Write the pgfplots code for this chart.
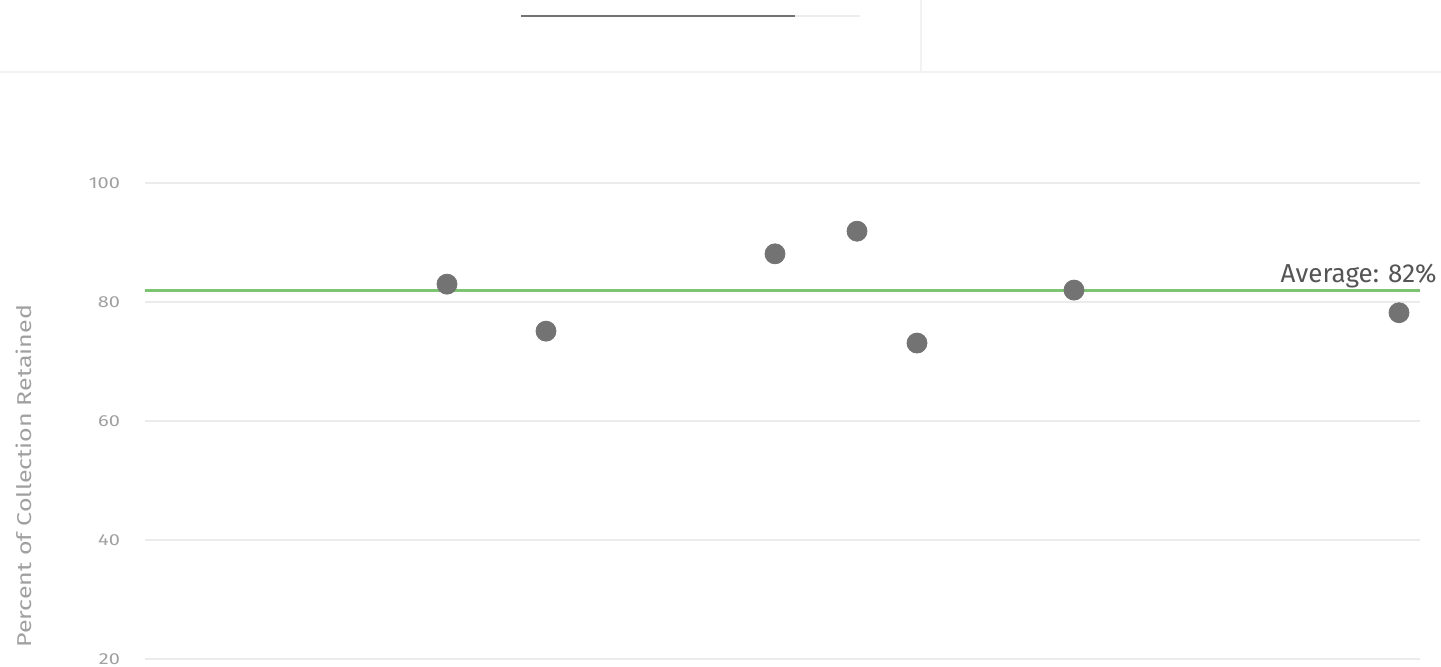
\documentclass[border=0pt]{standalone}
\usepackage{pgfplots}
\pgfplotsset{compat=1.18}
\usepackage{fontspec}
\setmainfont{Fira Sans}
\definecolor{gridc}{HTML}{EBEBEB}
\definecolor{ptc}{HTML}{737373}
\definecolor{avgc}{HTML}{7DC472}
\definecolor{lblc}{HTML}{A0A0A0}
\definecolor{txtc}{HTML}{555555}
\begin{document}
\begin{tikzpicture}[x=0.5pt,y=0.5pt]
\path[use as bounding box] (0,0) rectangle (1441,666);
% faint interface decoration at the top
\draw[line width=1pt, color=black!55] (521,650) -- (795,650);
\draw[line width=1pt, color=black!7] (795,650) -- (860,650);
\draw[line width=0.6pt, color=black!5] (0,594) -- (1441,594);
\draw[line width=0.6pt, color=black!5] (921,594) -- (921,666);
\begin{axis}[
  at={(72.5pt,0pt)}, anchor=south west,
  scale only axis, width=637.5pt, height=253.4pt,
  xmin=0, xmax=1275, ymin=18.82, ymax=104,
  axis line style={draw=none},
  xtick=\empty,
  ytick={20,40,60,80,100},
  ymajorgrids, grid style={gridc, line width=1pt},
  major tick length=0pt,
  yticklabel style={font=\fontsize{8}{9}\selectfont, text=lblc, anchor=east, xshift=-9pt},
  yticklabel={\scalebox{1.25}[1]{\pgfmathprintnumber{\tick}}},
  /pgf/number format/assume math mode=true,
  clip=false,
]
\addplot[avgc, line width=1.5pt] coordinates {(0,81.85) (1275,81.85)};
\addplot[only marks, mark=*, mark size=5pt, color=ptc, mark options={draw=ptc, fill=ptc}]
  coordinates {(302,83.0) (401,75.1) (630,88.1) (712,91.9) (772,73.1) (929,82.0) (1254,78.2)};
\node[anchor=base east, font=\fontsize{13}{15}\selectfont, text=txtc, inner sep=0pt] at (axis cs:1292,83.2) {Average: 82\%};
\node[rotate=90, font=\fontsize{10}{12}\selectfont, text=lblc, inner sep=0pt] at (axis cs:-121,50.7) {\scalebox{1.25}[1]{Percent of Collection Retained}};
\end{axis}
\end{tikzpicture}
\end{document}
